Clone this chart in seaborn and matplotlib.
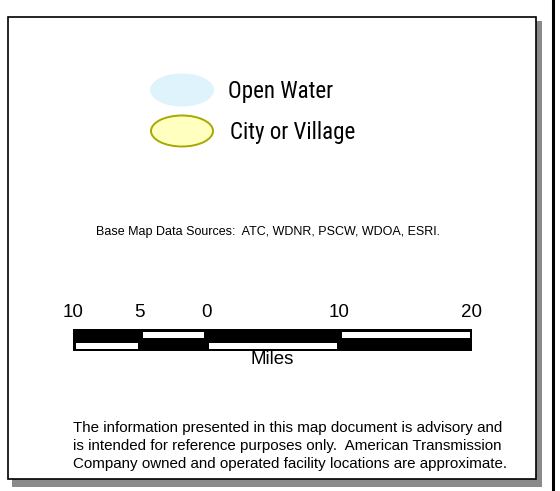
import os
import matplotlib
matplotlib.use("Agg")
import matplotlib.pyplot as plt
from matplotlib import font_manager
from matplotlib.font_manager import FontProperties
from matplotlib.patches import Ellipse, Rectangle
import seaborn as sns

W, H = 560, 491

# legend entries
legend_labels = ["Open Water", "City or Village"]
legend_fill = ["#def3fc", "#ffffbf"]
legend_edge = ["#def3fc", "#a9a800"]

# scale bar (miles)
seg_edges = [-10, -5, 0, 10, 20]
seg_top_white = [False, True, False, True]
tick_values = [-10, -5, 0, 10, 20]
tick_labels = ["10", "5", "0", "10", "20"]
unit_label = "Miles"

sources_text = "Base Map Data Sources:  ATC, WDNR, PSCW, WDOA, ESRI."
disclaimer_lines = [
    "The information presented in this map document is advisory and",
    "is intended for reference purposes only.  American Transmission",
    "Company owned and operated facility locations are approximate.",
]

sns.set_theme(style="white")
plt.rcParams["font.family"] = ["Liberation Sans", "DejaVu Sans"]
plt.rcParams.update({
    "text.color": "black",
    "axes.labelcolor": "black",
    "xtick.color": "black",
    "ytick.color": "black",
})


def narrow_font():
    # condensed face for the legend labels (Arial Narrow look)
    wanted = [("liberationsansnarrow-regular", 17),
              ("robotocondensed-regular", 16.5),
              ("dejavusanscondensed.ttf", 14.5)]
    files = [f.fname for f in font_manager.fontManager.ttflist]
    for key, size in wanted:
        for fn in files:
            if os.path.basename(fn).lower().startswith(key):
                return FontProperties(fname=fn, size=size)
    return FontProperties(family="DejaVu Sans", stretch="condensed", size=13.5)


legend_font = narrow_font()

fig = plt.figure(figsize=(W / 100, H / 100), dpi=100)
fig.patch.set_facecolor("white")

# page frame in pixel coordinates
ax = fig.add_axes([0, 0, 1, 1])
ax.set_xlim(0, W)
ax.set_ylim(H, 0)
ax.set_axis_off()

ax.add_patch(Rectangle((12, 21), 530, 466, facecolor="#8a8a8a", edgecolor="none"))
ax.add_patch(Rectangle((8, 17), 528, 462, facecolor="white", edgecolor="black", linewidth=1.2))
ax.axvline(553, color="black", linewidth=2.2)

# legend
for i, (lab, fc, ec) in enumerate(zip(legend_labels, legend_fill, legend_edge)):
    y = 90 + i * 41
    ax.add_patch(Ellipse((182, y), 62, 31, facecolor=fc, edgecolor=ec, linewidth=1.4))
    ax.text(228 + 2 * i, y + 1, lab, fontproperties=legend_font,
            ha="left", va="center", color="black")

ax.text(268, 232, sources_text, fontsize=9, ha="center", va="center", color="black")
ax.text(73, 446, "\n".join(disclaimer_lines), fontsize=10.9, ha="left", va="center",
        linespacing=1.37, color="black")

# scale bar axes in miles
sb = fig.add_axes([73 / W, 1 - 351 / H, 399 / W, 22 / H])
sb.set_facecolor("none")
sb.set_xlim(seg_edges[0], seg_edges[-1])
sb.set_ylim(0, 2)
lefts = seg_edges[:-1]
widths = [b - a for a, b in zip(seg_edges[:-1], seg_edges[1:])]
sb.bar(lefts, [2] * len(lefts), width=widths, bottom=0, align="edge",
       color="black", edgecolor="black", linewidth=0)
for left, w, top_white in zip(lefts, widths, seg_top_white):
    sb.bar(left, 1, width=w, bottom=1 if top_white else 0, align="edge",
           color="white", edgecolor="black", linewidth=3.6)
for s in sb.spines.values():
    s.set_visible(False)
sb.xaxis.tick_top()
sb.set_xticks(tick_values)
sb.set_xticklabels(tick_labels, fontsize=13.5, color="black")
sb.tick_params(axis="x", length=0, pad=6)
sb.set_yticks([])
sb.xaxis.set_label_position("bottom")
sb.set_xlabel(unit_label, fontsize=13.5, labelpad=0, color="black")

fig.savefig("out.png", dpi=100, facecolor="white")
